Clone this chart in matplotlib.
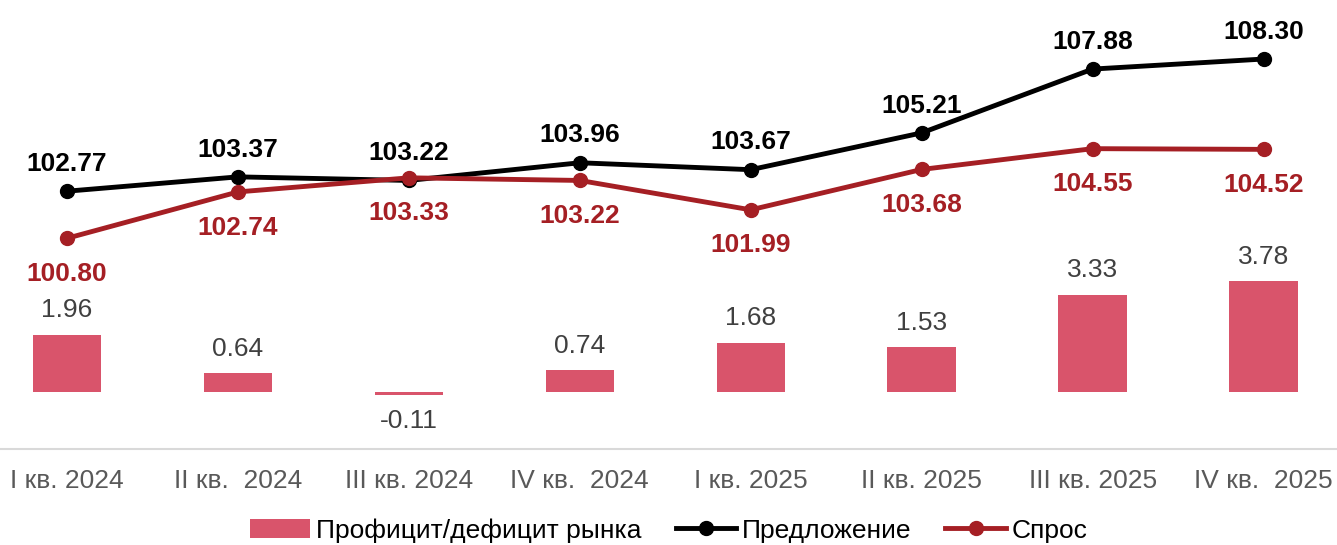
import matplotlib.pyplot as plt
import numpy as np

plt.rcParams['font.family'] = ['Liberation Sans', 'DejaVu Sans']

quarters = ['I кв. 2024', 'II кв.  2024', 'III кв. 2024', 'IV кв.  2024',
            'I кв. 2025', 'II кв. 2025', 'III кв. 2025', 'IV кв.  2025']
balance = [1.96, 0.64, -0.11, 0.74, 1.68, 1.53, 3.33, 3.78]
supply = [102.77, 103.37, 103.22, 103.96, 103.67, 105.21, 107.88, 108.30]
demand = [100.80, 102.74, 103.33, 103.22, 101.99, 103.68, 104.55, 104.52]

bar_color = '#D9546B'
red = '#A51F24'
x = np.arange(len(quarters))

fig = plt.figure(figsize=(13.37, 5.45), dpi=100)
ax = fig.add_axes([0, 0.176, 1, 0.824])
ax2 = ax.twinx()

bars = ax.bar(x, balance, width=0.4, color=bar_color, label='Профицит/дефицит рынка')
for xi, v in zip(x, balance):
    if v >= 0:
        ax.annotate(f'{v:.2f}', (xi, v), xytext=(0, 9), textcoords='offset points',
                    ha='center', va='bottom', fontsize=19, color='#404040')
    else:
        ax.annotate(f'{v:.2f}', (xi, v), xytext=(0, -10), textcoords='offset points',
                    ha='center', va='top', fontsize=19, color='#404040')
ax.set_ylim(-1.945, 13.38)
ax.set_xlim(-0.392, 7.43)

l1, = ax2.plot(x, supply, color='black', lw=3.5, marker='o', ms=10, label='Предложение')
l2, = ax2.plot(x, demand, color=red, lw=3.5, marker='o', ms=10, label='Спрос')
ax2.set_ylim(91.98, 110.77)

for i, (s, d) in enumerate(zip(supply, demand)):
    ax2.annotate(f'{s:.2f}', (i, s), xytext=(0, 11), textcoords='offset points',
                 ha='center', va='bottom', fontsize=19, fontweight='bold', color='black')
    ax2.annotate(f'{d:.2f}', (i, d), xytext=(0, -17), textcoords='offset points',
                 ha='center', va='top', fontsize=19, fontweight='bold', color=red)

for a in (ax, ax2):
    for sp in a.spines.values():
        sp.set_visible(False)
    a.set_yticks([])
ax.spines['bottom'].set_visible(True)
ax.spines['bottom'].set_color('#D9D9D9')
ax.spines['bottom'].set_linewidth(1.5)

ax.set_xticks(x)
ax.set_xticklabels(quarters, fontsize=19, color='#595959')
ax.tick_params(axis='x', length=0, pad=14)

fig.legend(handles=[bars, l1, l2], loc='center', bbox_to_anchor=(0.5, 0.027),
           ncol=3, frameon=False, fontsize=19, handlelength=2.3,
           columnspacing=1.3, handletextpad=0.2)

fig.savefig('out.png', dpi=100)
